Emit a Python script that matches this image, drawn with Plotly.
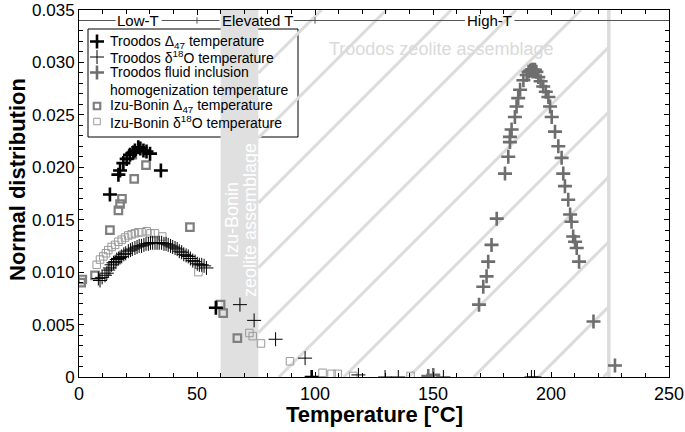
import plotly.graph_objects as go

# --- data ---
troodos_d47_t = [13.1, 16.7, 17.4, 18.8, 20.2, 21.6, 23.0, 23.7, 25.1, 26.0, 27.3, 28.6, 30.1, 34.7, 58.0, 98.6]
troodos_d47_y = [0.0174, 0.0193, 0.0197, 0.0204, 0.0208, 0.0212, 0.0214, 0.0216, 0.0219, 0.0218, 0.0216,
                 0.0215, 0.0213, 0.0197, 0.0066, 0.0000]

troodos_d18o_t = [8.2, 8.9, 9.8, 11.0, 11.8, 12.4, 13.1, 13.8, 14.6, 15.3, 16.0, 16.8, 17.4, 18.1, 19.0,
                  19.8, 20.9, 21.8, 22.6, 23.7, 24.6, 25.5, 26.5, 27.5, 28.4, 29.4, 30.3, 31.2, 32.2,
                  33.1, 34.0, 35.0, 36.0, 36.9, 37.8, 38.8, 39.7, 40.7, 41.6, 42.5, 43.5, 44.4, 45.4,
                  46.3, 47.2, 48.2, 49.2, 50.1, 51.0, 52.0, 53.0, 54.0,
                  68.2, 74.2, 83.3, 95.8, 118.4, 129.7, 135.3, 154.4, 191.7, 193.0]
troodos_d18o_y = [0.0094, 0.0092, 0.0095, 0.0097, 0.0099, 0.0102, 0.0104, 0.0107, 0.0109, 0.0110, 0.0112,
                  0.0113, 0.0114, 0.0115, 0.0117, 0.0118, 0.0120, 0.0121, 0.0122, 0.0123, 0.0124, 0.0125,
                  0.0125, 0.0126, 0.0127, 0.0127, 0.0128, 0.0128, 0.0128, 0.0128, 0.0128, 0.0128, 0.0127,
                  0.0127, 0.0126, 0.0125, 0.0124, 0.0123, 0.0122, 0.0120, 0.0119, 0.0117, 0.0116,
                  0.0115, 0.0113, 0.0111, 0.0110, 0.0108, 0.0107, 0.0107, 0.0106, 0.0104,
                  0.0069, 0.0054, 0.0036, 0.0018, 0.0002, 0.0000, 0.0000, 0.0000, 0.0000, 0.0000]

troodos_fi_t = [148.0, 150.1, 169.5, 171.3, 172.7, 173.4, 174.8, 177.0, 180.5, 181.9, 182.6, 182.6, 183.3,
                184.7, 185.4, 186.1, 186.9, 188.3, 189.7, 190.5, 191.2, 191.8, 192.5, 193.2, 193.8,
                194.6, 195.6, 196.7, 197.8, 198.9, 199.6, 200.3, 201.7, 203.1, 204.5, 205.2, 205.9,
                207.3, 208.1, 208.7, 209.4, 210.2, 210.9, 211.9, 218.0, 227.1]
troodos_fi_y = [0.0001, 0.0002, 0.0069, 0.0086, 0.0096, 0.0110, 0.0126, 0.0151, 0.0194, 0.0210, 0.0224,
                0.0229, 0.0236, 0.0248, 0.0258, 0.0266, 0.0274, 0.0283, 0.0288, 0.0291, 0.0292, 0.0293,
                0.0293, 0.0293, 0.0291, 0.0286, 0.0282, 0.0277, 0.0272, 0.0267, 0.0258, 0.0248,
                0.0234, 0.0220, 0.0209, 0.0194, 0.0182, 0.0169, 0.0155, 0.0148, 0.0134, 0.0129,
                0.0123, 0.0110, 0.0053, 0.0011]

izu_d47_t = [0.9, 1.4, 6.8, 13.1, 16.7, 17.4, 18.2, 22.6, 23.4, 28.4, 47.0, 60.0, 61.1, 67.1]
izu_d47_y = [0.0090, 0.0093, 0.0097, 0.0140, 0.0159, 0.0165, 0.0170, 0.0212, 0.0189, 0.0202, 0.0143,
             0.0069, 0.0061, 0.0037]

izu_d18o_t = [7.5, 8.9, 10.3, 11.4, 12.4, 13.8, 15.3, 16.7, 18.1, 19.5, 20.9, 22.3, 23.7, 25.1, 26.5,
              28.7, 30.3, 32.2, 35.3, 50.6, 72.2, 73.6, 77.1, 89.4, 103.2, 107.0, 109.6, 116.2, 140.5]
izu_d18o_y = [0.0107, 0.0112, 0.0115, 0.0118, 0.0121, 0.0124, 0.0126, 0.0129, 0.0131, 0.0133, 0.0135,
              0.0136, 0.0137, 0.0138, 0.0138, 0.0139, 0.0137, 0.0137, 0.0134, 0.0100, 0.0042, 0.0039,
              0.0032, 0.0015, 0.0004, 0.0003, 0.0003, 0.0001, 0.0001]

regime_labels = ["Low-T", "Elevated T", "High-T"]
regime_centers = [25, 75.5, 174]
regime_breaks = [50, 100]

FONT = "Arial, Liberation Sans, sans-serif"
X_RANGE = [0, 250]
Y_RANGE = [0, 0.035]
HATCH = "#dcdcdc"

# plot box in pixels
W, H = 685, 432
L, R, T, B = 79, 16, 10, 55
PW, PH = W - L - R, H - T - B


def px(x):
    return (x - L) / PW


def py(y):
    return (T + PH - y) / PH


series = [
    # name, x, y, symbol, colour, line width, size
    ("Troodos Δ<sub>47</sub> temperature", troodos_d47_t, troodos_d47_y, "cross-thin", "#000000", 2.6, 10),
    ("Troodos δ<sup>18</sup>O temperature", troodos_d18o_t, troodos_d18o_y, "cross-thin", "#000000", 1, 10),
    ("Troodos fluid inclusion<br>homogenization temperature", troodos_fi_t, troodos_fi_y,
     "cross-thin", "#6e6e6e", 2.6, 10),
    ("Izu-Bonin Δ<sub>47</sub> temperature", izu_d47_t, izu_d47_y, "square-open", "#7f7f7f", 2.2, 7.5),
    ("Izu-Bonin δ<sup>18</sup>O temperature", izu_d18o_t, izu_d18o_y, "square-open", "#9a9a9a", 1, 7.5),
]

fig = go.Figure()

for name, x, y, sym, col, lw, size in reversed(series):
    fig.add_trace(go.Scatter(
        x=x, y=y, mode="markers", name=name, showlegend=False,
        marker=dict(symbol=sym, size=size, color=col, line=dict(color=col, width=lw)),
    ))

# hand-drawn legend: key symbols on a pixel overlay axis
legend_rows_px = [41.5, 57, 72.5, 106, 121.5]
legend_text_px = [41.5, 57, 80.5, 106, 121.5]
key_x_px = 97
for (name, x, y, sym, col, lw, size), ky in zip(series, legend_rows_px):
    fig.add_trace(go.Scatter(
        x=[key_x_px], y=[ky], xaxis="x2", yaxis="y2", mode="markers", showlegend=False,
        hoverinfo="skip",
        marker=dict(symbol=sym, size=size - 1 if sym == "square-open" else size,
                    color=col, line=dict(color=col, width=lw)),
    ))

shapes = []
# Izu-Bonin zeolite band
shapes.append(dict(type="rect", xref="x", yref="y", x0=60, x1=76, y0=0, y1=0.035,
                   fillcolor="#e0e0e0", line=dict(width=0), layer="below"))
# Troodos zeolite hatching (45 deg on screen)
slope = (0.035 / PH) / (250 / PW)
hx0, hx1 = 76, 224.5
step = 27.5
t0 = 84.7 - step * 8
while t0 < hx1:
    xa = max(hx0, t0)
    ya = slope * (xa - t0)
    xb = min(hx1, t0 + 0.035 / slope)
    yb = slope * (xb - t0)
    if xb > xa and ya < 0.035:
        shapes.append(dict(type="line", xref="x", yref="y", x0=xa, y0=ya, x1=xb, y1=yb,
                           line=dict(color=HATCH, width=3), layer="below"))
    t0 += step
shapes.append(dict(type="line", xref="x", yref="y", x0=224.5, x1=224.5, y0=0, y1=0.035,
                   line=dict(color=HATCH, width=3.5), layer="below"))
# regime bar at top
for a, b in [(0, 15.5), (35, 59.5), (91, 163.5), (184.5, 250)]:
    shapes.append(dict(type="line", xref="x", yref="y", x0=a, x1=b, y0=0.034, y1=0.034,
                       line=dict(color="#555555", width=1)))
for xb in regime_breaks:
    shapes.append(dict(type="line", xref="x", yref="y", x0=xb, x1=xb, y0=0.0337, y1=0.0343,
                       line=dict(color="#555555", width=1)))
# legend box (under the markers, over the hatching)
shapes.append(dict(type="rect", xref="paper", yref="paper", x0=px(88), x1=px(298), y0=py(137), y1=py(29),
                   fillcolor="white", line=dict(color="#000000", width=1), layer="below"))

annotations = []
for lab, cx in zip(regime_labels, regime_centers):
    annotations.append(dict(x=cx, y=0.034, xref="x", yref="y", text=lab, showarrow=False,
                            font=dict(family=FONT, size=15, color="#000000")))
annotations.append(dict(x=153.5, y=0.0313, xref="x", yref="y", text="Troodos zeolite assemblage",
                        showarrow=False, font=dict(family=FONT, size=18, color="#dadada")))
annotations.append(dict(x=px(232), y=py(220), xref="paper", yref="paper", text="Izu-Bonin",
                        showarrow=False, textangle=-90, xanchor="center", yanchor="middle",
                        font=dict(family=FONT, size=18, color="#ffffff")))
annotations.append(dict(x=px(250), y=py(220), xref="paper", yref="paper", text="zeolite assemblage",
                        showarrow=False, textangle=-90, xanchor="center", yanchor="middle",
                        font=dict(family=FONT, size=18, color="#ffffff")))
for (name, *_), ty in zip(series, legend_text_px):
    annotations.append(dict(x=px(108), y=py(ty), xref="paper", yref="paper", text=name, showarrow=False,
                            xanchor="left", yanchor="middle", align="left",
                            font=dict(family=FONT, size=14, color="#000000")))
# axis titles
annotations.append(dict(x=0.5, y=py(414), xref="paper", yref="paper", text="<b>Temperature [°C]</b>",
                        showarrow=False, xanchor="center", yanchor="middle",
                        font=dict(family=FONT, size=22, color="#000000")))
annotations.append(dict(x=px(18), y=py(180), xref="paper", yref="paper", text="<b>Normal distribution</b>",
                        showarrow=False, textangle=-90, xanchor="center", yanchor="middle",
                        font=dict(family=FONT, size=22, color="#000000")))

fig.update_layout(
    width=W, height=H,
    margin=dict(l=L, r=R, t=T, b=B),
    paper_bgcolor="white", plot_bgcolor="white",
    font=dict(family=FONT, size=17, color="#000000"),
    shapes=shapes, annotations=annotations,
    showlegend=False,
    xaxis2=dict(overlaying="x", range=[L, L + PW], visible=False, fixedrange=True),
    yaxis2=dict(overlaying="y", range=[T + PH, T], visible=False, fixedrange=True),
)
fig.update_layout(xaxis=dict(
    range=X_RANGE, showgrid=False, zeroline=False, automargin=False,
    showline=True, linecolor="#000000", linewidth=1, mirror="allticks",
    ticks="inside", ticklen=5, tickcolor="#000000", dtick=50,
    minor=dict(dtick=10, ticks="inside", ticklen=4, tickcolor="#000000"),
    tickfont=dict(family=FONT, size=18),
))
fig.update_layout(yaxis=dict(
    range=Y_RANGE, showgrid=False, zeroline=False, automargin=False,
    showline=True, linecolor="#000000", linewidth=1, mirror="allticks",
    ticks="inside", ticklen=5, tickcolor="#000000",
    tickvals=[0, 0.005, 0.010, 0.015, 0.020, 0.025, 0.030, 0.035],
    ticktext=["0", "0.005", "0.010", "0.015", "0.020", "0.025", "0.030", "0.035"],
    minor=dict(dtick=0.001, ticks="inside", ticklen=4, tickcolor="#000000"),
    tickfont=dict(family=FONT, size=17),
))

fig.write_html("out.html", config={"displayModeBar": False},
               post_script="document.body.style.margin='0';")
